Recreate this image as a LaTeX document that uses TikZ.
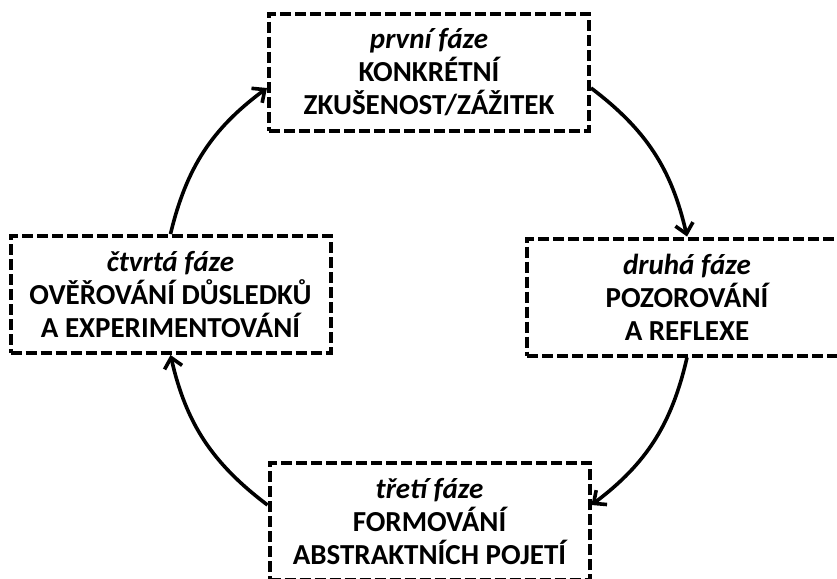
\documentclass[tikz,border=0pt]{standalone}
\usepackage{fontspec}
\setmainfont{Carlito}
\usetikzlibrary{arrows.meta,calc}
\tikzset{
  phase/.style={draw=black, line width=4pt, dash pattern=on 11pt off 4pt,
    minimum width=320pt, minimum height=117pt, inner sep=0pt,
    align=center, font=\fontsize{29pt}{33pt}\selectfont\bfseries},
  cyc/.style={line width=3.6pt, -{Straight Barb[length=10pt,width=18pt,line width=3.6pt]}, bend left=20}
}
\begin{document}
\begin{tikzpicture}[x=1pt,y=-1pt]
\useasboundingbox (0,0) rectangle (837,578);
\clip (0,0) rectangle (837,578);
\node[phase] (top) at (429,72.5) {\textit{první fáze}\\KONKRÉTNÍ\\ZKUŠENOST/ZÁŽITEK};
\node[phase] (right) at (687,297) {\textit{druhá fáze}\\POZOROVÁNÍ\\A REFLEXE};
\node[phase] (bottom) at (429.5,521.5) {\textit{třetí fáze}\\FORMOVÁNÍ\\ABSTRAKTNÍCH POJETÍ};
\node[phase] (left) at (170.5,294.5) {\textit{čtvrtá fáze}\\OVĚŘOVÁNÍ DŮSLEDKŮ\\A EXPERIMENTOVÁNÍ};
\draw[cyc] (left.north) to ($(top.west)+(0,15.5)$);
\draw[cyc] ($(top.east)+(0,15.5)$) to (right.north);
\draw[cyc] (right.south) to ($(bottom.east)+(0,-16.5)$);
\draw[cyc] ($(bottom.west)+(0,-16.5)$) to (left.south);
\end{tikzpicture}
\end{document}
